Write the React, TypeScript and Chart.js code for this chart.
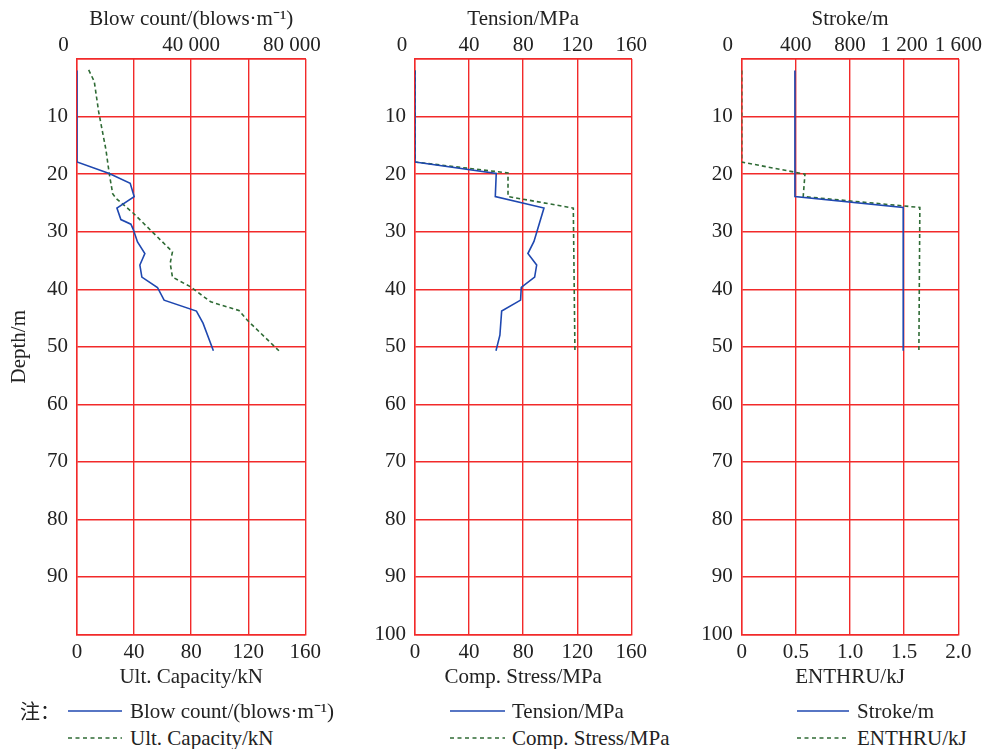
import React, { useEffect, useRef } from 'react';
import { Chart, registerables } from 'chart.js';
Chart.register(...registerables);

const FONT = '"Liberation Serif", "Times New Roman", serif';
const TEXT = '#222222';
const GRID = '#f22a2a';
const BLUE = '#1f48b0';
const GREEN = '#2f6b35';
const FS = 21;

// ---- data (depth in m) ----
const blowDepth = [2, 17.9, 19.9, 21.6, 23.9, 25.9, 27.9, 28.7, 29.6, 31.8, 33.8, 35.8, 37.9, 39.7, 41.9, 43.8, 45.9, 50.7];
const blowCount = [0, 0, 11300, 18640, 20030, 13990, 15380, 18880, 19700, 21200, 23780, 22030, 22730, 28200, 30520, 41850, 44160, 47790];
const capDepth = [1.9, 3.9, 9.2, 15.8, 19.9, 23.4, 24.2, 26.8, 33.5, 35.5, 37.9, 39.6, 42.2, 43.7, 45.4, 50.7];
const ultCapacity = [8.2, 12.1, 15.2, 20.3, 22.6, 25, 27.3, 39.5, 66.9, 65.3, 66.9, 79.7, 93.7, 113.5, 119.4, 141.5];

const tensionDepth = [2, 17.9, 19.9, 23.9, 25.9, 31.7, 33.8, 35.8, 37.9, 39.7, 41.9, 43.8, 48, 50.7];
const tension = [0, 0, 60.1, 59.4, 95.4, 88, 83.5, 90, 88.5, 78.6, 78.1, 64.1, 62.8, 59.9];
const compDepth = [2, 17.9, 19.8, 23.9, 25.9, 50.7];
const compStress = [0, 0, 68.8, 68.8, 117.1, 118.3];

const strokeDepth = [2, 23.9, 25.8, 50.7];
const stroke = [393, 393, 1193, 1193];
const enthruDepth = [2, 17.9, 20.0, 23.9, 25.8, 50.7];
const enthru = [0, 0, 0.584, 0.568, 1.645, 1.636];

// ---- tick labels ----
const depthLabelsP1 = [10, 20, 30, 40, 50, 60, 70, 80, 90];
const depthLabels = [10, 20, 30, 40, 50, 60, 70, 80, 90, 100];
const blowTopTicks = [40000];
const blowShiftedTicks = [0, 80000];
const capTicks = [0, 40, 80, 120, 160];
const tensionTopTicks = [40, 80, 120, 160];
const stressTicks = [0, 40, 80, 120, 160];
const strokeTopTicks = [400, 800, 1200, 1600];
const enthruTicks = [0, 0.5, 1.0, 1.5, 2.0];

const spaced = (v: number) => String(Math.round(v)).replace(/\B(?=(\d{3})+(?!\d))/g, ' ');
const oneDec = (v: number) => (v === 0 ? '0' : v.toFixed(1));
const plain = (v: number) => String(v);

const TOP_H = 59;
const CANVAS_H = 700;
const PLOT_BOTTOM = 634.5;
const TOP_PAD = 1;

const shiftedTopLabels = {
  id: 'shiftedTopLabels',
  afterDraw(chart: any, _args: any, opts: any) {
    const sc = chart.scales.xTop;
    if (!sc || !opts || !opts.items) return;
    const ctx = chart.ctx;
    ctx.save();
    ctx.font = `${FS}px ${FONT}`;
    ctx.fillStyle = TEXT;
    ctx.textAlign = 'center';
    ctx.textBaseline = 'middle';
    const y = sc.bottom - TOP_PAD - (FS * 1.2) / 2;
    for (const it of opts.items) {
      ctx.fillText(it.text, sc.getPixelForValue(it.value) + it.dx, y);
    }
    ctx.restore();
  },
};

type Series = { label: string; depth: number[]; values: number[]; axis: string; color: string; dash: number[] };
type PanelCfg = {
  left: number; width: number; yWidth: number; padRight: number;
  topTitle: string; bottomTitle: string;
  topMax: number; topStep: number; topLabels: number[]; topFmt: (v: number) => string;
  shifted: { value: number; text: string; dx: number }[];
  bottomMax: number; bottomStep: number; bottomLabels: number[]; bottomFmt: (v: number) => string;
  yLabels: number[]; yTitle: boolean; series: Series[];
};

const panels: PanelCfg[] = [
  {
    left: 0, width: 340, yWidth: 77, padRight: 340 - 305.3,
    topTitle: 'Blow count/(blows\u00B7m\u207B\u00B9)', bottomTitle: 'Ult. Capacity/kN',
    topMax: 80000, topStep: 20000, topLabels: blowTopTicks, topFmt: spaced,
    shifted: blowShiftedTicks.map((v) => ({ value: v, text: spaced(v), dx: -13.5 })),
    bottomMax: 160, bottomStep: 40, bottomLabels: capTicks, bottomFmt: plain,
    yLabels: depthLabelsP1, yTitle: true,
    series: [
      { label: 'Blow count/(blows\u00B7m\u207B\u00B9)', depth: blowDepth, values: blowCount, axis: 'xTop', color: BLUE, dash: [] },
      { label: 'Ult. Capacity/kN', depth: capDepth, values: ultCapacity, axis: 'xBottom', color: GREEN, dash: [4, 3] },
    ],
  },
  {
    left: 340, width: 320, yWidth: 75, padRight: 660 - 631.3,
    topTitle: 'Tension/MPa', bottomTitle: 'Comp. Stress/MPa',
    topMax: 160, topStep: 40, topLabels: tensionTopTicks, topFmt: plain,
    shifted: [{ value: 0, text: '0', dx: -13 }],
    bottomMax: 160, bottomStep: 40, bottomLabels: stressTicks, bottomFmt: plain,
    yLabels: depthLabels, yTitle: false,
    series: [
      { label: 'Tension/MPa', depth: tensionDepth, values: tension, axis: 'xTop', color: BLUE, dash: [] },
      { label: 'Comp. Stress/MPa', depth: compDepth, values: compStress, axis: 'xBottom', color: GREEN, dash: [4, 3] },
    ],
  },
  {
    left: 665, width: 318, yWidth: 76.7, padRight: 983 - 958.3,
    topTitle: 'Stroke/m', bottomTitle: 'ENTHRU/kJ',
    topMax: 1600, topStep: 400, topLabels: strokeTopTicks, topFmt: spaced,
    shifted: [{ value: 0, text: '0', dx: -14 }],
    bottomMax: 2, bottomStep: 0.5, bottomLabels: enthruTicks, bottomFmt: oneDec,
    yLabels: depthLabels, yTitle: false,
    series: [
      { label: 'Stroke/m', depth: strokeDepth, values: stroke, axis: 'xTop', color: BLUE, dash: [] },
      { label: 'ENTHRU/kJ', depth: enthruDepth, values: enthru, axis: 'xBottom', color: GREEN, dash: [4, 3] },
    ],
  },
];

const font = { family: FONT, size: FS };

function Panel({ cfg }: { cfg: PanelCfg }) {
  const ref = useRef<HTMLCanvasElement | null>(null);
  useEffect(() => {
    if (!ref.current) return;
    const has = (list: number[], v: number) => list.some((t) => Math.abs(t - v) < 1e-9);
    const chart = new Chart(ref.current, {
      type: 'scatter',
      data: {
        datasets: cfg.series.map((s) => ({
          label: s.label,
          data: s.depth.map((d, i) => ({ x: s.values[i], y: d })),
          xAxisID: s.axis,
          yAxisID: 'y',
          showLine: true,
          borderColor: s.color,
          backgroundColor: s.color,
          borderWidth: 1.6,
          borderDash: s.dash,
          pointRadius: 0,
          pointHoverRadius: 0,
          tension: 0,
          fill: false,
        })),
      },
      options: {
        animation: false,
        responsive: false,
        maintainAspectRatio: false,
        devicePixelRatio: 1,
        events: [],
        layout: { padding: { left: 0, top: 0, bottom: 0, right: cfg.padRight } },
        plugins: {
          legend: { display: false },
          tooltip: { enabled: false },
          shiftedTopLabels: { items: cfg.shifted },
        } as any,
        scales: {
          xBottom: {
            type: 'linear',
            position: 'bottom',
            min: 0,
            max: cfg.bottomMax,
            ticks: {
              stepSize: cfg.bottomStep,
              font,
              color: TEXT,
              padding: 5,
              maxRotation: 0,
              autoSkip: false,
              callback: (v: any) => (has(cfg.bottomLabels, Number(v)) ? cfg.bottomFmt(Number(v)) : ''),
            },
            grid: { color: GRID, lineWidth: 1.4, drawTicks: false },
            border: { color: GRID, width: 1.4 },
            title: { display: true, text: cfg.bottomTitle, font, color: TEXT, padding: { top: 0, bottom: 10.4 } },
            afterFit: (s: any) => { s.height = CANVAS_H - PLOT_BOTTOM; },
          },
          xTop: {
            type: 'linear',
            position: 'top',
            min: 0,
            max: cfg.topMax,
            ticks: {
              stepSize: cfg.topStep,
              font,
              color: TEXT,
              padding: TOP_PAD,
              maxRotation: 0,
              autoSkip: false,
              callback: (v: any) => (has(cfg.topLabels, Number(v)) ? cfg.topFmt(Number(v)) : ''),
            },
            grid: { display: false, drawTicks: false },
            border: { color: GRID, width: 1.4 },
            title: { display: true, text: cfg.topTitle, font, color: TEXT, padding: { top: 6.5, bottom: 0 } },
            afterFit: (s: any) => { s.height = TOP_H; },
          },
          y: {
            type: 'linear',
            reverse: true,
            min: 0,
            max: 100,
            ticks: {
              stepSize: 10,
              font,
              color: TEXT,
              padding: 9,
              autoSkip: false,
              callback: (v: any) => (has(cfg.yLabels, Number(v)) ? String(v) : ''),
            },
            grid: { color: GRID, lineWidth: 1.4, drawTicks: false },
            border: { color: GRID, width: 1.4 },
            title: { display: cfg.yTitle, text: 'Depth/m', font, color: TEXT, padding: { top: 7, bottom: 0 } },
            afterFit: (s: any) => { s.width = cfg.yWidth; },
          },
        } as any,
      },
      plugins: [shiftedTopLabels as any],
    });
    return () => chart.destroy();
  }, [cfg]);
  return (
    <div style={{ position: 'absolute', left: cfg.left, top: 0, width: cfg.width, height: CANVAS_H }}>
      <canvas ref={ref} width={cfg.width} height={CANVAS_H} style={{ width: cfg.width, height: CANVAS_H, display: 'block' }} />
    </div>
  );
}

const legendRows = [
  { y: 711, items: [
    { lineX: 68, lineW: 54, textX: 130, label: 'Blow count/(blows\u00B7m\u207B\u00B9)', color: BLUE, dashed: false },
    { lineX: 450, lineW: 55, textX: 512, label: 'Tension/MPa', color: BLUE, dashed: false },
    { lineX: 797, lineW: 52, textX: 857, label: 'Stroke/m', color: BLUE, dashed: false },
  ] },
  { y: 738, items: [
    { lineX: 68, lineW: 54, textX: 130, label: 'Ult. Capacity/kN', color: GREEN, dashed: true },
    { lineX: 450, lineW: 55, textX: 512, label: 'Comp. Stress/MPa', color: GREEN, dashed: true },
    { lineX: 797, lineW: 52, textX: 857, label: 'ENTHRU/kJ', color: GREEN, dashed: true },
  ] },
];

export default function App() {
  return (
    <div style={{ position: 'fixed', left: 0, top: 0, width: 983, height: 749, background: '#ffffff', overflow: 'hidden' }}>
      {panels.map((p, i) => (
        <Panel key={i} cfg={p} />
      ))}
      <div style={{ position: 'absolute', left: 20, top: 711 - 13, height: 26, lineHeight: '26px', fontSize: 20, fontFamily: '"Noto Sans CJK SC", sans-serif', color: TEXT }}>
        注：
      </div>
      {legendRows.map((row, ri) =>
        row.items.map((it, ii) => (
          <React.Fragment key={`${ri}-${ii}`}>
            <svg
              width={it.lineW}
              height={4}
              style={{ position: 'absolute', left: it.lineX, top: row.y - 2, overflow: 'visible' }}
            >
              <line
                x1={0}
                y1={2}
                x2={it.lineW}
                y2={2}
                stroke={it.color}
                strokeWidth={1.6}
                strokeDasharray={it.dashed ? '4 3.5' : undefined}
              />
            </svg>
            <div
              style={{
                position: 'absolute',
                left: it.textX,
                top: row.y - 13,
                height: 26,
                lineHeight: '26px',
                whiteSpace: 'nowrap',
                fontSize: FS,
                fontFamily: FONT,
                color: TEXT,
              }}
            >
              {it.label}
            </div>
          </React.Fragment>
        ))
      )}
    </div>
  );
}
